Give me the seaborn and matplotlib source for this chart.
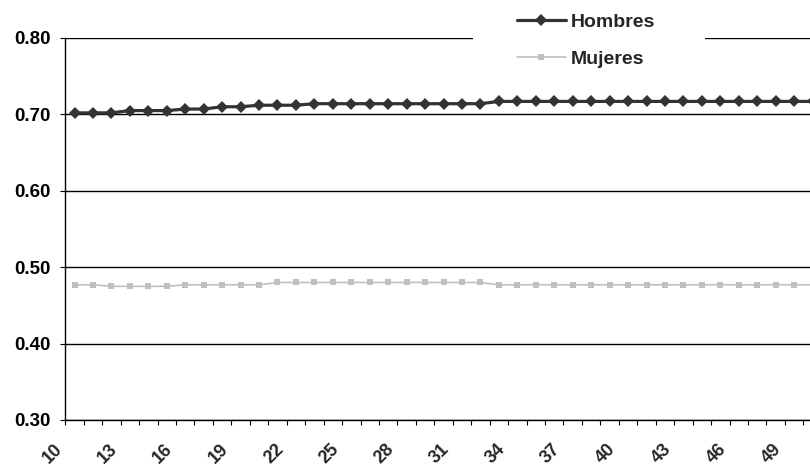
import matplotlib
matplotlib.use("Agg")
import matplotlib.pyplot as plt
import matplotlib.transforms as mtransforms
from matplotlib.patches import Rectangle
import pandas as pd
import seaborn as sns

# Ages (categories) and the two series
edades = [10, 11, 12, 13, 14, 15, 16, 17, 18, 19, 20, 21, 22, 23, 24, 25, 26, 27, 28, 29,
          30, 31, 32, 33, 34, 35, 36, 37, 38, 39, 40, 41, 42, 43, 44, 45, 46, 47, 48, 49, 50]
hombres = [0.702, 0.702, 0.702, 0.705, 0.705, 0.705, 0.707, 0.707, 0.710, 0.710,
           0.712, 0.712, 0.712, 0.714, 0.714, 0.714, 0.714, 0.714, 0.714, 0.714,
           0.714, 0.714, 0.714, 0.717, 0.717, 0.717, 0.717, 0.717, 0.717, 0.717,
           0.717, 0.717, 0.717, 0.717, 0.717, 0.717, 0.717, 0.717, 0.717, 0.717, 0.717]
mujeres = [0.477, 0.477, 0.475, 0.475, 0.475, 0.475, 0.477, 0.477, 0.477, 0.477,
           0.477, 0.480, 0.480, 0.480, 0.480, 0.480, 0.480, 0.480, 0.480, 0.480,
           0.480, 0.480, 0.480, 0.477, 0.477, 0.477, 0.477, 0.477, 0.477, 0.477,
           0.477, 0.477, 0.477, 0.477, 0.477, 0.477, 0.477, 0.477, 0.477, 0.477, 0.477]
etiquetas_x = [10, 13, 16, 19, 22, 25, 28, 31, 34, 37, 40, 43, 46, 49]
ticks_y = [0.30, 0.40, 0.50, 0.60, 0.70, 0.80]

df = pd.DataFrame({"edad": edades, "Hombres": hombres, "Mujeres": mujeres})

sns.set_style("white")
plt.rcParams["font.family"] = ["Liberation Sans", "DejaVu Sans"]

W, H = 810, 466
fig = plt.figure(figsize=(W / 100, H / 100), dpi=100)
# plot area runs slightly past the right edge of the figure
x0, x1, ytop, ybot = 65.3, 821.8, 38, 420
ax = fig.add_axes([x0 / W, 1 - ybot / H, (x1 - x0) / W, (ybot - ytop) / H])

sns.lineplot(data=df, x="edad", y="Hombres", ax=ax, color="#333333", lw=2.3,
             marker="D", markersize=6, markeredgewidth=0, label="Hombres", zorder=3)
sns.lineplot(data=df, x="edad", y="Mujeres", ax=ax, color="#c0c0c0", lw=1.2,
             marker="s", markersize=4.5, markeredgewidth=0, label="Mujeres", zorder=3)

ax.set_xlim(edades[0] - 0.5, edades[-1] + 0.5)
ax.set_ylim(0.30, 0.80)
ax.set_xlabel("")
ax.set_ylabel("")

# y axis
ax.set_yticks(ticks_y)
ax.set_yticklabels([f"{v:.2f}" for v in ticks_y], fontsize=13.5, fontweight="bold")
ax.tick_params(axis="y", which="major", left=True, direction="out", length=3.6,
               width=0.8, pad=7, colors="black")
ax.set_axisbelow(True)
ax.yaxis.grid(True, color="black", lw=1.0)
ax.xaxis.grid(False)

# x axis: labels on categories, tick marks on category boundaries
ax.set_xticks(etiquetas_x)
ax.set_xticks([e - 0.5 for e in edades] + [edades[-1] + 0.5], minor=True)
ax.tick_params(axis="x", which="major", bottom=True, length=0, pad=0)
ax.tick_params(axis="x", which="minor", bottom=True, direction="out", length=3.6,
               width=0.8, color="black")
offset = mtransforms.ScaledTranslation(-0.15, -0.265, fig.dpi_scale_trans)
ax.set_xticklabels([str(v) for v in etiquetas_x], fontsize=13, fontweight="bold",
                   rotation=45, ha="right", va="center", rotation_mode="anchor")
for lab in ax.get_xticklabels():
    lab.set_transform(lab.get_transform() + offset)

for side in ["top", "right"]:
    ax.spines[side].set_visible(False)
for side in ["left", "bottom"]:
    ax.spines[side].set_color("black")
    ax.spines[side].set_linewidth(1.0)

# white legend background over the top gridline
ax.add_patch(Rectangle((473 / W, 1 - 75 / H), (705 - 473) / W, 75 / H,
                       transform=fig.transFigure, facecolor="white", edgecolor="none",
                       clip_on=False, zorder=1.5))
leg = ax.legend(loc="upper left", bbox_to_anchor=(517 / W, 1 - 13 / H),
                bbox_transform=fig.transFigure, frameon=False, borderpad=0,
                borderaxespad=0, handlelength=2.5, handletextpad=0.25,
                labelspacing=1.0, prop={"size": 14, "weight": "bold"})
leg.set_zorder(5)

fig.savefig("out.png", dpi=100)
